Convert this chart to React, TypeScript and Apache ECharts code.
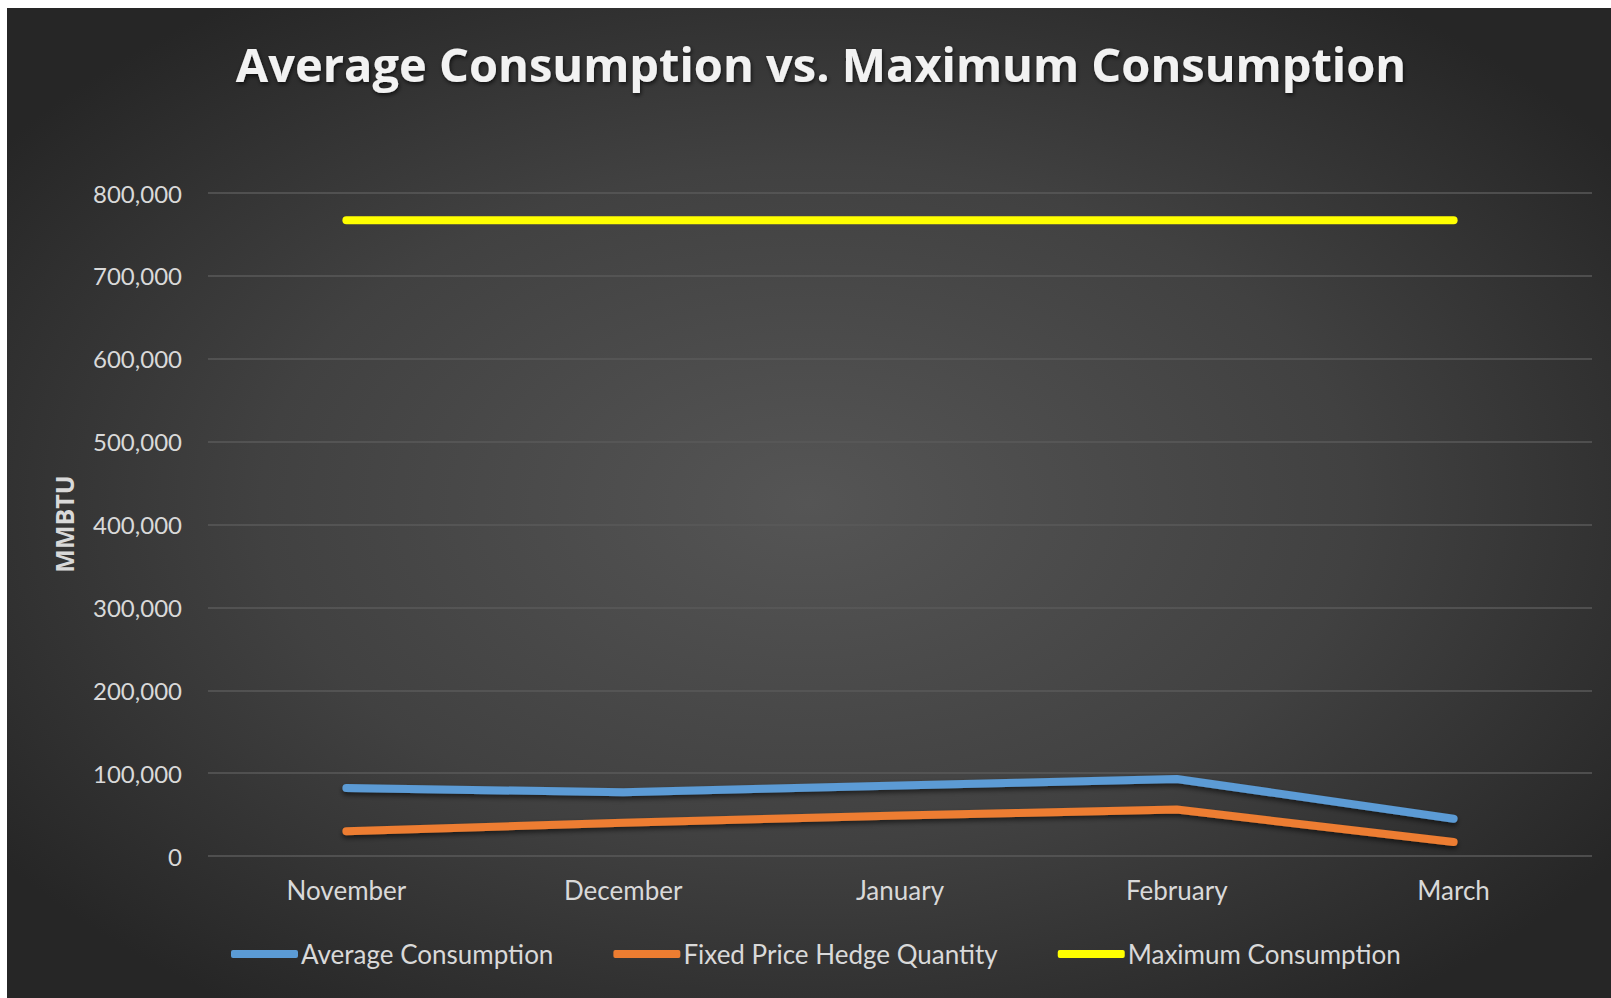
import React, { useEffect, useRef } from "react";
import * as echarts from "echarts";

const months = ["November", "December", "January", "February", "March"];
const averageConsumption = [82000, 77000, 85000, 93000, 45000];
const fixedPriceHedge = [30000, 40000, 49000, 56000, 17000];
const maximumConsumption = [767000, 767000, 767000, 767000, 767000];

const W = 1611;
const H = 998;

export default function App() {
  const ref = useRef<HTMLDivElement>(null);
  useEffect(() => {
    if (!ref.current) return;
    const chart = echarts.init(ref.current, null, { renderer: "svg" });
    const lineShadow = {
      shadowColor: "rgba(0,0,0,0.55)",
      shadowBlur: 5,
      shadowOffsetY: 3,
    };
    const legendText = { color: "#d9d9d9", fontFamily: "Lato", fontSize: 26 };
    chart.setOption({
      animation: false,
      backgroundColor: "#ffffff",
      graphic: [
        {
          type: "rect",
          z: -10,
          silent: true,
          shape: { x: 7, y: 8, width: W - 7, height: H - 8 },
          style: {
            fill: {
              type: "radial",
              x: 0.5,
              y: 0.5,
              r: 0.62,
              colorStops: [
                { offset: 0, color: "#555555" },
                { offset: 0.55, color: "#414141" },
                { offset: 1, color: "#262626" },
              ],
            },
          },
        },
        {
          type: "text",
          x: 64,
          y: 524,
          rotation: Math.PI / 2,
          style: {
            text: "MMBTU",
            fill: "#d9d9d9",
            font: "bold 25px 'Open Sans'",
            align: "center",
            verticalAlign: "middle",
          },
        },
      ],
      title: {
        text: "Average Consumption vs. Maximum Consumption",
        left: 816,
        top: 35,
        textAlign: "center",
        textStyle: {
          color: "#f2f2f2",
          fontFamily: "Open Sans",
          fontWeight: "bold",
          fontSize: 47,
          textShadowColor: "rgba(0,0,0,0.7)",
          textShadowBlur: 4,
          textShadowOffsetX: 1,
          textShadowOffsetY: 2,
        },
      },
      legend: {
        left: 226,
        top: 936,
        itemWidth: 67,
        itemHeight: 8,
        itemGap: 60,
        icon: "roundRect",
        textStyle: { ...legendText, padding: [0, 0, 0, -2] },
        data: ["Average Consumption", "Fixed Price Hedge Quantity", "Maximum Consumption"],
      },
      grid: { left: 208, right: W - 1592, top: 193, bottom: H - 856, containLabel: false },
      xAxis: {
        type: "category",
        data: months,
        boundaryGap: true,
        axisLine: { show: false },
        axisTick: { show: false },
        axisLabel: { color: "#d9d9d9", fontFamily: "Lato", fontSize: 26, margin: 21 },
      },
      yAxis: {
        type: "value",
        min: 0,
        max: 800000,
        interval: 100000,
        axisLine: { show: false },
        axisTick: { show: false },
        splitLine: { lineStyle: { color: "#5a5a5a", width: 1.5 } },
        axisLabel: {
          color: "#d9d9d9",
          fontFamily: "Lato",
          fontSize: 24,
          margin: 26,
          formatter: (v: number) => v.toLocaleString("en-US"),
        },
      },
      series: [
        {
          name: "Average Consumption",
          type: "line",
          data: averageConsumption,
          showSymbol: false,
          symbol: "none",
          color: "#5b9bd5",
          lineStyle: { width: 8, color: "#5b9bd5", cap: "round", join: "round", ...lineShadow },
        },
        {
          name: "Fixed Price Hedge Quantity",
          type: "line",
          data: fixedPriceHedge,
          showSymbol: false,
          symbol: "none",
          color: "#ed7d31",
          lineStyle: { width: 8, color: "#ed7d31", cap: "round", join: "round", ...lineShadow },
        },
        {
          name: "Maximum Consumption",
          type: "line",
          data: maximumConsumption,
          showSymbol: false,
          symbol: "none",
          color: "#ffff00",
          lineStyle: { width: 8, color: "#ffff00", cap: "round", join: "round" },
        },
      ],
    });
    return () => chart.dispose();
  }, []);
  return (
    <div
      ref={ref}
      style={{ position: "fixed", left: 0, top: 0, width: W, height: H, background: "#fff" }}
    />
  );
}
